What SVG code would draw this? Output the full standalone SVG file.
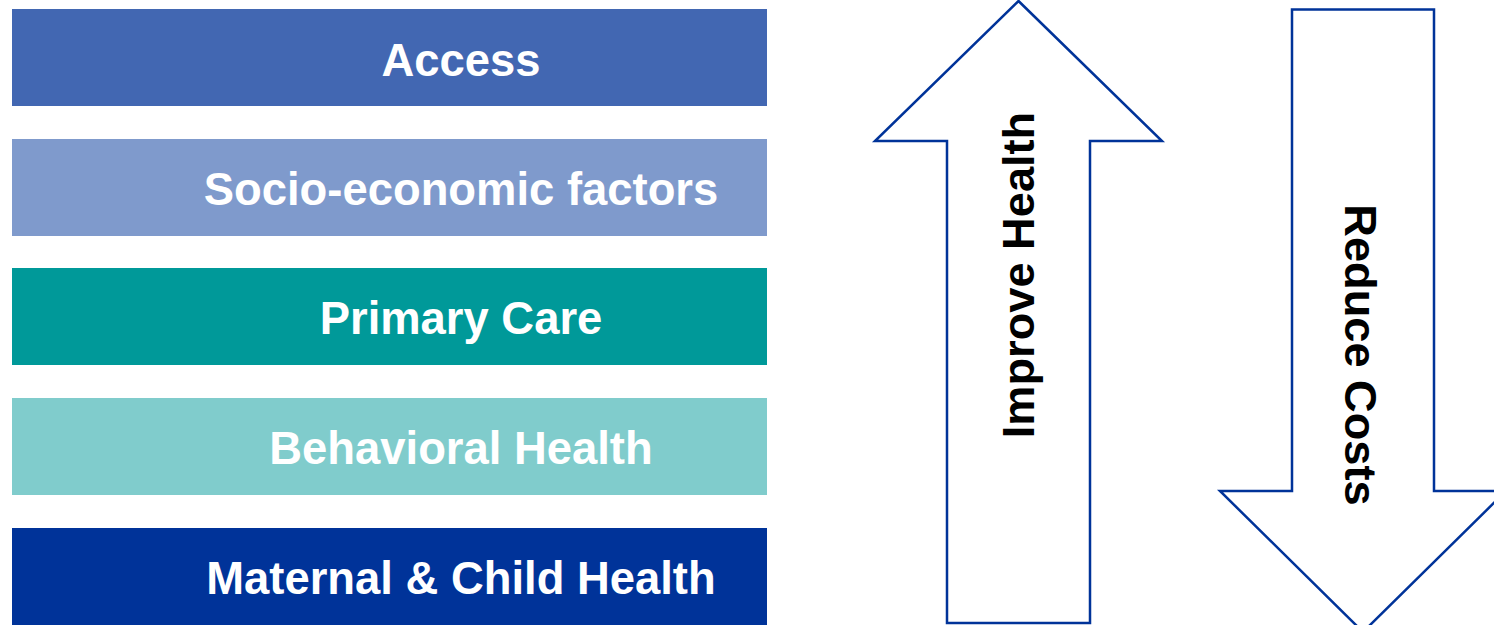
<svg xmlns="http://www.w3.org/2000/svg" width="1494" height="625" viewBox="0 0 1494 625">
  <style>
    .bar-label { font-family: "Liberation Sans", Arial, sans-serif; font-weight: bold; font-size: 45.4px; fill: #ffffff; text-anchor: middle; }
    .arrow { fill: #ffffff; stroke: #003399; stroke-width: 2.5; stroke-linejoin: miter; }
    .arrow-label { font-family: "Liberation Sans", Arial, sans-serif; font-weight: bold; font-size: 45.2px; fill: #000000; text-anchor: middle; }
  </style>
  <rect width="1494" height="625" fill="#ffffff"/>

  <!-- stacked category bars -->
  <g id="access">
    <rect x="12" y="9" width="755" height="97" fill="#4267B2"/>
    <text class="bar-label" x="461" y="76">Access</text>
  </g>
  <g id="socio-economic">
    <rect x="12" y="139" width="755" height="97" fill="#7F9ACC"/>
    <text class="bar-label" x="461" y="205">Socio-economic factors</text>
  </g>
  <g id="primary-care">
    <rect x="12" y="268" width="755" height="97" fill="#009999"/>
    <text class="bar-label" x="461" y="334">Primary Care</text>
  </g>
  <g id="behavioral-health">
    <rect x="12" y="398" width="755" height="97" fill="#80CCCC"/>
    <text class="bar-label" x="461" y="464">Behavioral Health</text>
  </g>
  <g id="maternal-child-health">
    <rect x="12" y="528" width="755" height="100" fill="#003399"/>
    <text class="bar-label" x="461" y="594">Maternal &amp; Child Health</text>
  </g>

  <!-- block arrows -->
  <g id="improve-health">
    <polygon class="arrow" points="1018.5,1 1162,141 1090,141 1090,623 947,623 947,141 875,141"/>
    <text class="arrow-label" transform="translate(1034,275) rotate(-90)" x="0" y="0">Improve Health</text>
  </g>
  <g id="reduce-costs">
    <polygon class="arrow" points="1292,9.5 1434,9.5 1434,491 1506,491 1363,632 1220,491 1292,491"/>
    <text class="arrow-label" transform="translate(1345,355) rotate(90)" x="0" y="0">Reduce Costs</text>
  </g>
</svg>
